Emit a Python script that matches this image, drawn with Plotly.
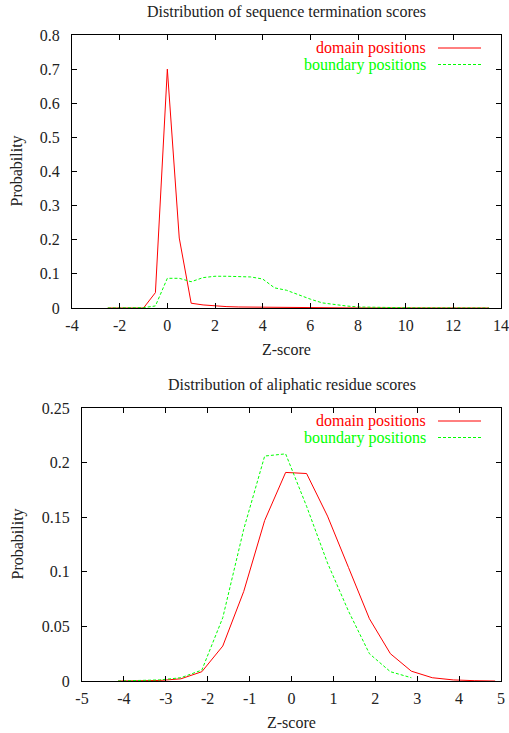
import plotly.graph_objects as go

# ---- Top chart: sequence termination scores ----
top_x = [-2.5, -2.0, -1.5, -1.0, -0.5, 0.0, 0.5, 1.0, 1.5, 2.0, 2.5, 3.0, 3.5, 4.0, 4.5,
         5.0, 5.5, 6.0, 6.5, 7.0, 7.5, 8.0, 8.5, 9.0, 9.5, 10.0, 10.5, 11.0, 11.5,
         12.0, 12.5, 13.0, 13.5]
top_domain = [0, 0, 0, 0, 0.045, 0.70, 0.205, 0.014, 0.009, 0.006, 0.004, 0.003, 0.0025,
              0.002, 0.0015, 0.001, 0.001, 0.0008, 0.0006, 0.0005, 0.0004, 0.0003, 0.0002,
              0.0002, 0.0001, 0.0001, 0, 0, 0, 0, 0, 0, 0]
top_boundary = [0, 0, 0, 0.001, 0.006, 0.087, 0.087, 0.077, 0.089, 0.093, 0.093, 0.093,
                0.091, 0.085, 0.059, 0.052, 0.038, 0.026, 0.015, 0.01, 0.006, 0.003, 0.002,
                0.0015, 0.001, 0.0008, 0.0005, 0.0003, 0.0002, 0.0001, 0.0001, 0, 0]
top_xticks = [-4, -2, 0, 2, 4, 6, 8, 10, 12, 14]
top_xticklabels = ["-4", "-2", "0", "2", "4", "6", "8", "10", "12", "14"]
top_yticks = [0, 0.1, 0.2, 0.3, 0.4, 0.5, 0.6, 0.7, 0.8]
top_yticklabels = ["0", "0.1", "0.2", "0.3", "0.4", "0.5", "0.6", "0.7", "0.8"]

# ---- Bottom chart: aliphatic residue scores ----
bot_x_domain = [-4.14, -3.64, -3.14, -2.64, -2.14, -1.64, -1.14, -0.64, -0.14, 0.36, 0.86,
                1.36, 1.86, 2.36, 2.86, 3.36, 3.86, 4.36, 4.86]
bot_domain = [0, 0, 0.0005, 0.002, 0.0085, 0.032, 0.082, 0.147, 0.191, 0.190, 0.151, 0.104,
              0.057, 0.025, 0.009, 0.003, 0.001, 0.0003, 0]
bot_x_boundary = [-4.14, -3.64, -3.14, -2.64, -2.14, -1.64, -1.14, -0.64, -0.14, 0.36, 0.86,
                  1.36, 1.86, 2.36, 2.86]
bot_boundary = [0, 0.0002, 0.001, 0.003, 0.010, 0.058, 0.139, 0.206, 0.208, 0.160, 0.108,
                0.064, 0.025, 0.0085, 0.003]
bot_xticks = [-5, -4, -3, -2, -1, 0, 1, 2, 3, 4, 5]
bot_xticklabels = ["-5", "-4", "-3", "-2", "-1", "0", "1", "2", "3", "4", "5"]
bot_yticks = [0, 0.05, 0.1, 0.15, 0.2, 0.25]
bot_yticklabels = ["0", "0.05", "0.1", "0.15", "0.2", "0.25"]

titles = ["Distribution of sequence termination scores", "Distribution of aliphatic residue scores"]
series_names = ["domain positions", "boundary positions"]

RED = "#ff0000"
GREEN = "#00ff00"
FONT = "Liberation Serif"
TXT = "#222222"
W, H = 509, 733

fig = go.Figure()
fig.add_trace(go.Scatter(x=top_x, y=top_domain, mode="lines", line=dict(color=RED, width=1),
                         xaxis="x", yaxis="y", showlegend=False))
fig.add_trace(go.Scatter(x=top_x, y=top_boundary, mode="lines",
                         line=dict(color=GREEN, width=1, dash="3px,2px"),
                         xaxis="x", yaxis="y", showlegend=False))
fig.add_trace(go.Scatter(x=bot_x_domain, y=bot_domain, mode="lines", line=dict(color=RED, width=1),
                         xaxis="x2", yaxis="y2", showlegend=False))
fig.add_trace(go.Scatter(x=bot_x_boundary, y=bot_boundary, mode="lines",
                         line=dict(color=GREEN, width=1, dash="3px,2px"),
                         xaxis="x2", yaxis="y2", showlegend=False))

# plot areas in window pixels
top_box = (72, 501, 35, 308)   # left, right, top, bottom
bot_box = (82, 501, 408, 681)

def fx(px):
    return px / W

def fy(py):
    return 1 - py / H

axis_common = dict(showline=True, linecolor="black", linewidth=1, mirror="ticks",
                   ticks="inside", ticklen=5, tickcolor="black", showgrid=False,
                   zeroline=False, automargin=False, ticklabeloverflow="allow",
                   tickfont=dict(family=FONT, size=16, color=TXT))

fig.update_layout(
    width=W, height=H, margin=dict(l=0, r=0, t=0, b=0, autoexpand=False),
    paper_bgcolor="white", plot_bgcolor="white", showlegend=False,
    font=dict(family=FONT, color=TXT),
    xaxis=dict(domain=[fx(top_box[0]), fx(top_box[1])], range=[-4, 14], tickvals=top_xticks,
               ticktext=top_xticklabels, anchor="y", ticklabelstandoff=3, **axis_common),
    yaxis=dict(domain=[fy(top_box[3]), fy(top_box[2])], range=[0, 0.8], tickvals=top_yticks,
               ticktext=top_yticklabels, anchor="x", ticklabelstandoff=8, **axis_common),
    xaxis2=dict(domain=[fx(bot_box[0]), fx(bot_box[1])], range=[-5, 5], tickvals=bot_xticks,
                ticktext=bot_xticklabels, anchor="y2", ticklabelstandoff=3, **axis_common),
    yaxis2=dict(domain=[fy(bot_box[3]), fy(bot_box[2])], range=[0, 0.25], tickvals=bot_yticks,
                ticktext=bot_yticklabels, anchor="x2", ticklabelstandoff=8, **axis_common),
)

annots = []
shapes = []
for i, (box, title) in enumerate(zip([top_box, bot_box], titles)):
    cx = fx((box[0] + box[1]) / 2)
    annots.append(dict(text=title, x=cx, y=fy(box[2] - 23), xref="paper", yref="paper",
                       xanchor="center", yanchor="middle", showarrow=False,
                       font=dict(family=FONT, size=16, color=TXT)))
    annots.append(dict(text="Z-score", x=cx, y=fy(box[3] + 41), xref="paper", yref="paper",
                       xanchor="center", yanchor="middle", showarrow=False,
                       font=dict(family=FONT, size=16, color=TXT)))
    annots.append(dict(text="Probability", x=fx(17), y=fy((box[2] + box[3]) / 2),
                       xref="paper", yref="paper", xanchor="center", yanchor="middle",
                       textangle=-90, showarrow=False,
                       font=dict(family=FONT, size=16, color=TXT)))
    for j, (name, col, dash) in enumerate(zip(series_names, [RED, GREEN], ["solid", "3px,2px"])):
        ly = box[2] + 13 + j * 16.5
        annots.append(dict(text=name, x=fx(428), y=fy(ly), xref="paper", yref="paper",
                           xanchor="right", yanchor="middle", showarrow=False,
                           font=dict(family=FONT, size=16, color=col)))
        shapes.append(dict(type="line", xref="paper", yref="paper",
                           x0=fx(438), x1=fx(481), y0=fy(ly), y1=fy(ly),
                           line=dict(color=col, width=1, dash=dash)))

fig.update_layout(annotations=annots, shapes=shapes)
fig.write_html("out.html", config={"displayModeBar": False},
               post_script="document.body.style.margin='0';document.body.style.overflow='hidden';")
